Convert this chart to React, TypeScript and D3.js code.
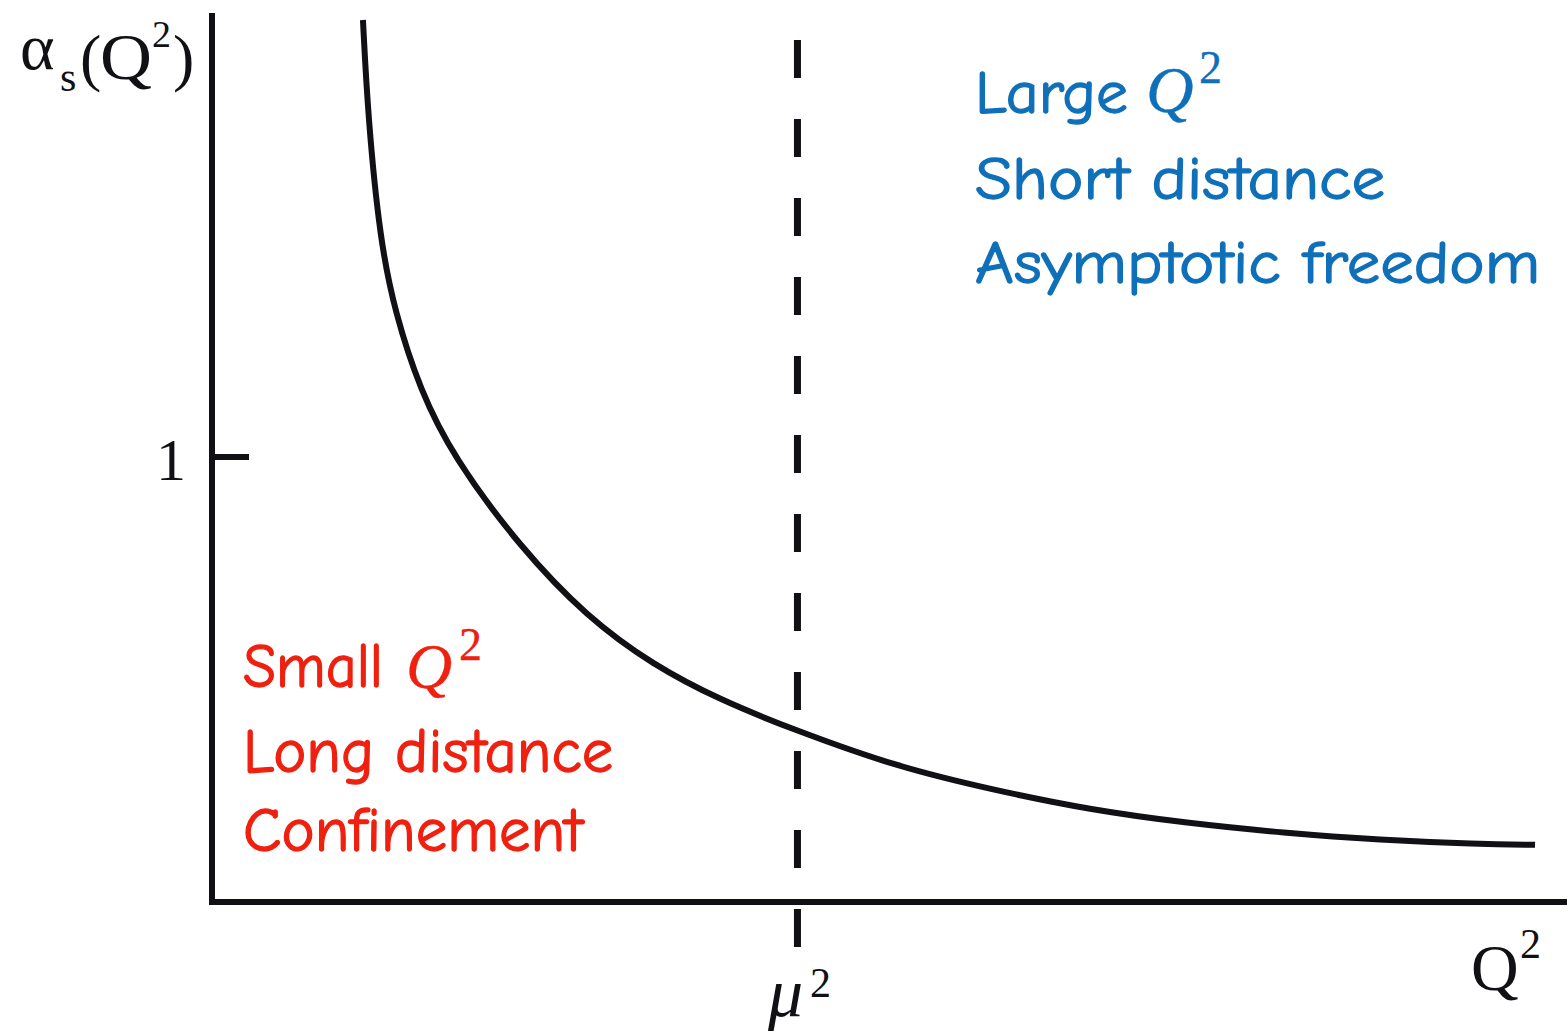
import React from "react";
import * as d3 from "d3";

// Q² (arbitrary units) and α_s(Q²)
const q2Values = [1.114, 1.151, 1.240, 1.351, 1.535, 1.779, 2.273, 2.768, 3.255, 3.749, 4.317, 5.055, 5.764, 6.480, 7.196, 7.911, 8.620, 9.336, 9.764];
const alphaValues = [1.991, 1.772, 1.494, 1.330, 1.156, 1.005, 0.801, 0.643, 0.535, 0.456, 0.386, 0.305, 0.253, 0.208, 0.178, 0.156, 0.140, 0.131, 0.129];
const yTickValues = [1];
const yTickLabels = ["1"];
const muSquared = 4.317;
const blueLines = ["Short distance", "Asymptotic freedom"];
const redLines = ["Long distance", "Confinement"];

const W = 1567;
const H = 1031;
const BLUE = "#0f70b9";
const RED = "#ef200f";
const INK = "#111014";
const HAND = "'Comic Sans MS', 'Comic Neue', 'DejaVu Sans', sans-serif";
const SERIF = "'Liberation Serif', 'DejaVu Serif', serif";

export default function App() {
  const x = d3.scaleLinear().domain([0, 10]).range([212, 1567]);
  const y = d3.scaleLinear().domain([0, 2]).range([902, 16]);
  const pts = q2Values.map((q, i) => [q, alphaValues[i]] as [number, number]);
  const line = d3
    .line<[number, number]>()
    .x((d) => x(d[0]))
    .y((d) => y(d[1]))
    .curve(d3.curveBasis);

  return (
    <svg
      width={W}
      height={H}
      style={{ position: "absolute", left: 0, top: 0, background: "#fff" }}
    >
      {/* axes */}
      <line x1={x(0)} x2={x(0)} y1={13} y2={y(0) + 3} stroke={INK} strokeWidth={6} />
      <line x1={x(0) - 3} x2={x(10)} y1={y(0)} y2={y(0)} stroke={INK} strokeWidth={6} />
      {yTickValues.map((v, i) => (
        <g key={i}>
          <line x1={x(0)} x2={249} y1={y(v) - 2} y2={y(v) - 2} stroke={INK} strokeWidth={6} />
          <text x={186} y={y(v) + 21} textAnchor="end" fontFamily={SERIF} fontSize={60} fill={INK}>
            {yTickLabels[i]}
          </text>
        </g>
      ))}

      {/* dashed μ² line */}
      <line
        x1={x(muSquared) + 0.5}
        x2={x(muSquared) + 0.5}
        y1={40}
        y2={948}
        stroke={INK}
        strokeWidth={7}
        strokeDasharray="38 41"
      />

      {/* curve */}
      <path d={line(pts) || ""} fill="none" stroke={INK} strokeWidth={6} />

      {/* y-axis label α_s(Q²) */}
      <g fontFamily={SERIF} fill={INK}>
        <text x={20} y={69} fontSize={66}>α</text>
        <text x={60} y={91} fontSize={42}>s</text>
        <text x={80} y={79} fontSize={64}>(</text>
        <text x={100} y={79} fontSize={66} textLength={52} lengthAdjust="spacingAndGlyphs">Q</text>
        <text x={152} y={47} fontSize={38}>2</text>
        <text x={173} y={79} fontSize={64}>)</text>
      </g>

      {/* x-axis labels */}
      <g fontFamily={SERIF} fill={INK}>
        <text x={768} y={1016} fontSize={70} fontStyle="italic">μ</text>
        <text x={810} y={997} fontSize={42}>2</text>
        <text x={1471} y={990} fontSize={66}>Q</text>
        <text x={1520} y={958} fontSize={42}>2</text>
      </g>

      {/* blue annotations */}
      <g fill={BLUE} stroke={BLUE} strokeWidth={1.3}>
        <text x={975} y={113} fontFamily={HAND} fontSize={60} textLength={153} lengthAdjust="spacingAndGlyphs">
          Large
        </text>
        <text x={1146} y={112} fontFamily={SERIF} fontSize={66} fontStyle="italic" strokeWidth={0.3}>Q</text>
        <text x={1199} y={83} fontFamily={SERIF} fontSize={46} strokeWidth={0.3}>2</text>
        {blueLines.map((t, i) => (
          <text
            key={t}
            x={975}
            y={199 + i * 84}
            fontFamily={HAND}
            fontSize={60}
            textLength={i === 0 ? 410 : 565}
            lengthAdjust="spacingAndGlyphs"
          >
            {t}
          </text>
        ))}
      </g>

      {/* red annotations */}
      <g fill={RED} stroke={RED} strokeWidth={1.3}>
        <text x={243} y={687} fontFamily={HAND} fontSize={62} textLength={140} lengthAdjust="spacingAndGlyphs">
          Small
        </text>
        <text x={406} y={688} fontFamily={SERIF} fontSize={64} fontStyle="italic" strokeWidth={0.3}>Q</text>
        <text x={459} y={660} fontFamily={SERIF} fontSize={46} strokeWidth={0.3}>2</text>
        {redLines.map((t, i) => (
          <text
            key={t}
            x={243}
            y={772 + i * 79}
            fontFamily={HAND}
            fontSize={62}
            textLength={i === 0 ? 370 : 340}
            lengthAdjust="spacingAndGlyphs"
          >
            {t}
          </text>
        ))}
      </g>
    </svg>
  );
}
